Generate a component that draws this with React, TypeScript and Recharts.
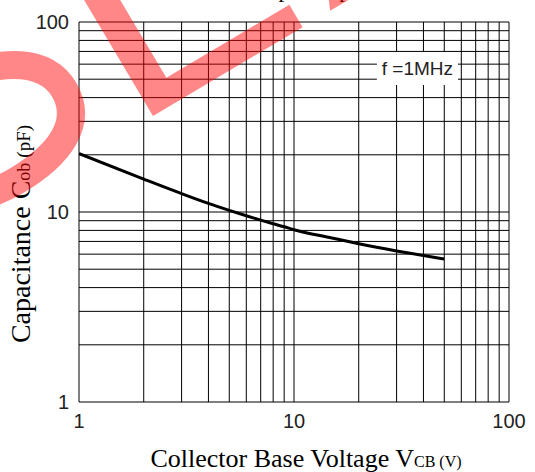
import React from 'react';
import {
  LineChart, Line, XAxis, YAxis, CartesianGrid, ReferenceArea, Customized,
} from 'recharts';

// log grid: every unit inside each decade
const gridTicks = [1, 2, 3, 4, 5, 6, 7, 8, 9, 10, 20, 30, 40, 50, 60, 70, 80, 90, 100];
const decadeLabels = [1, 10, 100];

// Cob vs VCB
const voltage = [1, 2, 3, 4, 5, 6, 7, 8, 9, 10, 15, 20, 30, 40, 50];
const capacitance = [20.3, 14.9, 12.5, 11.1, 10.2, 9.55, 9.06, 8.67, 8.36, 8.07, 7.3, 6.81, 6.24, 5.9, 5.66];

const data = voltage.map((v, i) => ({ v, c: capacitance[i] }));

const tickFmt = (val: number) => (decadeLabels.includes(val) ? String(val) : '');
const sans = 'Liberation Sans, Arial, sans-serif';
const serif = 'Liberation Serif, Times New Roman, serif';
const tickStyle = { fill: '#222', fontSize: 20, fontFamily: sans };

const wm = { fill: '#ff0000', fillOpacity: 0.47 };

const Overlay = () => (
  <g>
    {/* chart title, mostly cut off at the top edge */}
    <text x={244} y={-3} fontFamily={serif} fontSize={23} fill="#000">Output Capacitance</text>
    <text x={306} y={467} textAnchor="middle" fontFamily={serif} fontSize={26} fill="#000">
      Collector Base Voltage V<tspan fontSize={16}>CB (V)</tspan>
    </text>
    <text
      x={30}
      y={234}
      transform="rotate(-90 30 234)"
      textAnchor="middle"
      fontFamily={serif}
      fontSize={28}
      fill="#000"
    >
      Capacitance C<tspan fontSize={18}>ob</tspan>
      <tspan fontSize={19} dx={5}>(pF)</tspan>
    </text>
    {/* watermark letters, drawn in a rotated frame */}
    <g transform="translate(153 116) rotate(-30.7)">
      <path
        d="M -68 -200 C -80 -240 -120 -252 -150 -252 C -200 -252 -235 -230 -235 -195 C -235 -155 -195 -145 -150 -135 C -100 -124 -63 -105 -63 -68 C -63 -30 -100 -14 -150 -14 C -200 -14 -240 -35 -245 -75"
        fill="none"
        stroke="#ff0000"
        strokeOpacity={0.47}
        strokeWidth={28}
      />
      <path d="M 0 0 L 174 0 L 174 -26 L 31 -26 L 31 -265 L 0 -265 Z" {...wm} />
      <path d="M 206 0 L 252 0 L 340 -200 L 294 -200 Z" {...wm} />
    </g>
  </g>
);

export default function App() {
  return (
    <div style={{ width: 535, height: 472, background: '#fff' }}>
      <style>{`body{margin:0}`}</style>
      <LineChart width={535} height={472} data={data} margin={{ top: 22, right: 26, left: 0, bottom: 0 }}>
        <CartesianGrid stroke="#000" strokeWidth={1} />
        <XAxis
          dataKey="v"
          type="number"
          scale="log"
          domain={[1, 100]}
          ticks={gridTicks}
          tickFormatter={tickFmt}
          axisLine={false}
          tickLine={false}
          tickSize={0}
          tickMargin={12}
          height={70}
          interval={0}
          tick={tickStyle}
          allowDataOverflow
        />
        <YAxis
          type="number"
          scale="log"
          domain={[1, 100]}
          ticks={gridTicks}
          tickFormatter={tickFmt}
          axisLine={false}
          tickLine={false}
          tickSize={0}
          tickMargin={10}
          width={79}
          interval={0}
          tick={tickStyle}
          allowDataOverflow
        />
        <ReferenceArea
          x1={24.3}
          x2={57.9}
          y1={46.6}
          y2={69.5}
          fill="#fff"
          fillOpacity={1}
          stroke="none"
          label={{ value: 'f =1MHz', position: 'center', fill: '#222', fontSize: 19, fontFamily: sans }}
        />
        <Line
          dataKey="c"
          type="monotone"
          stroke="#000"
          strokeWidth={3}
          dot={false}
          isAnimationActive={false}
        />
        <Customized component={Overlay} />
      </LineChart>
    </div>
  );
}
